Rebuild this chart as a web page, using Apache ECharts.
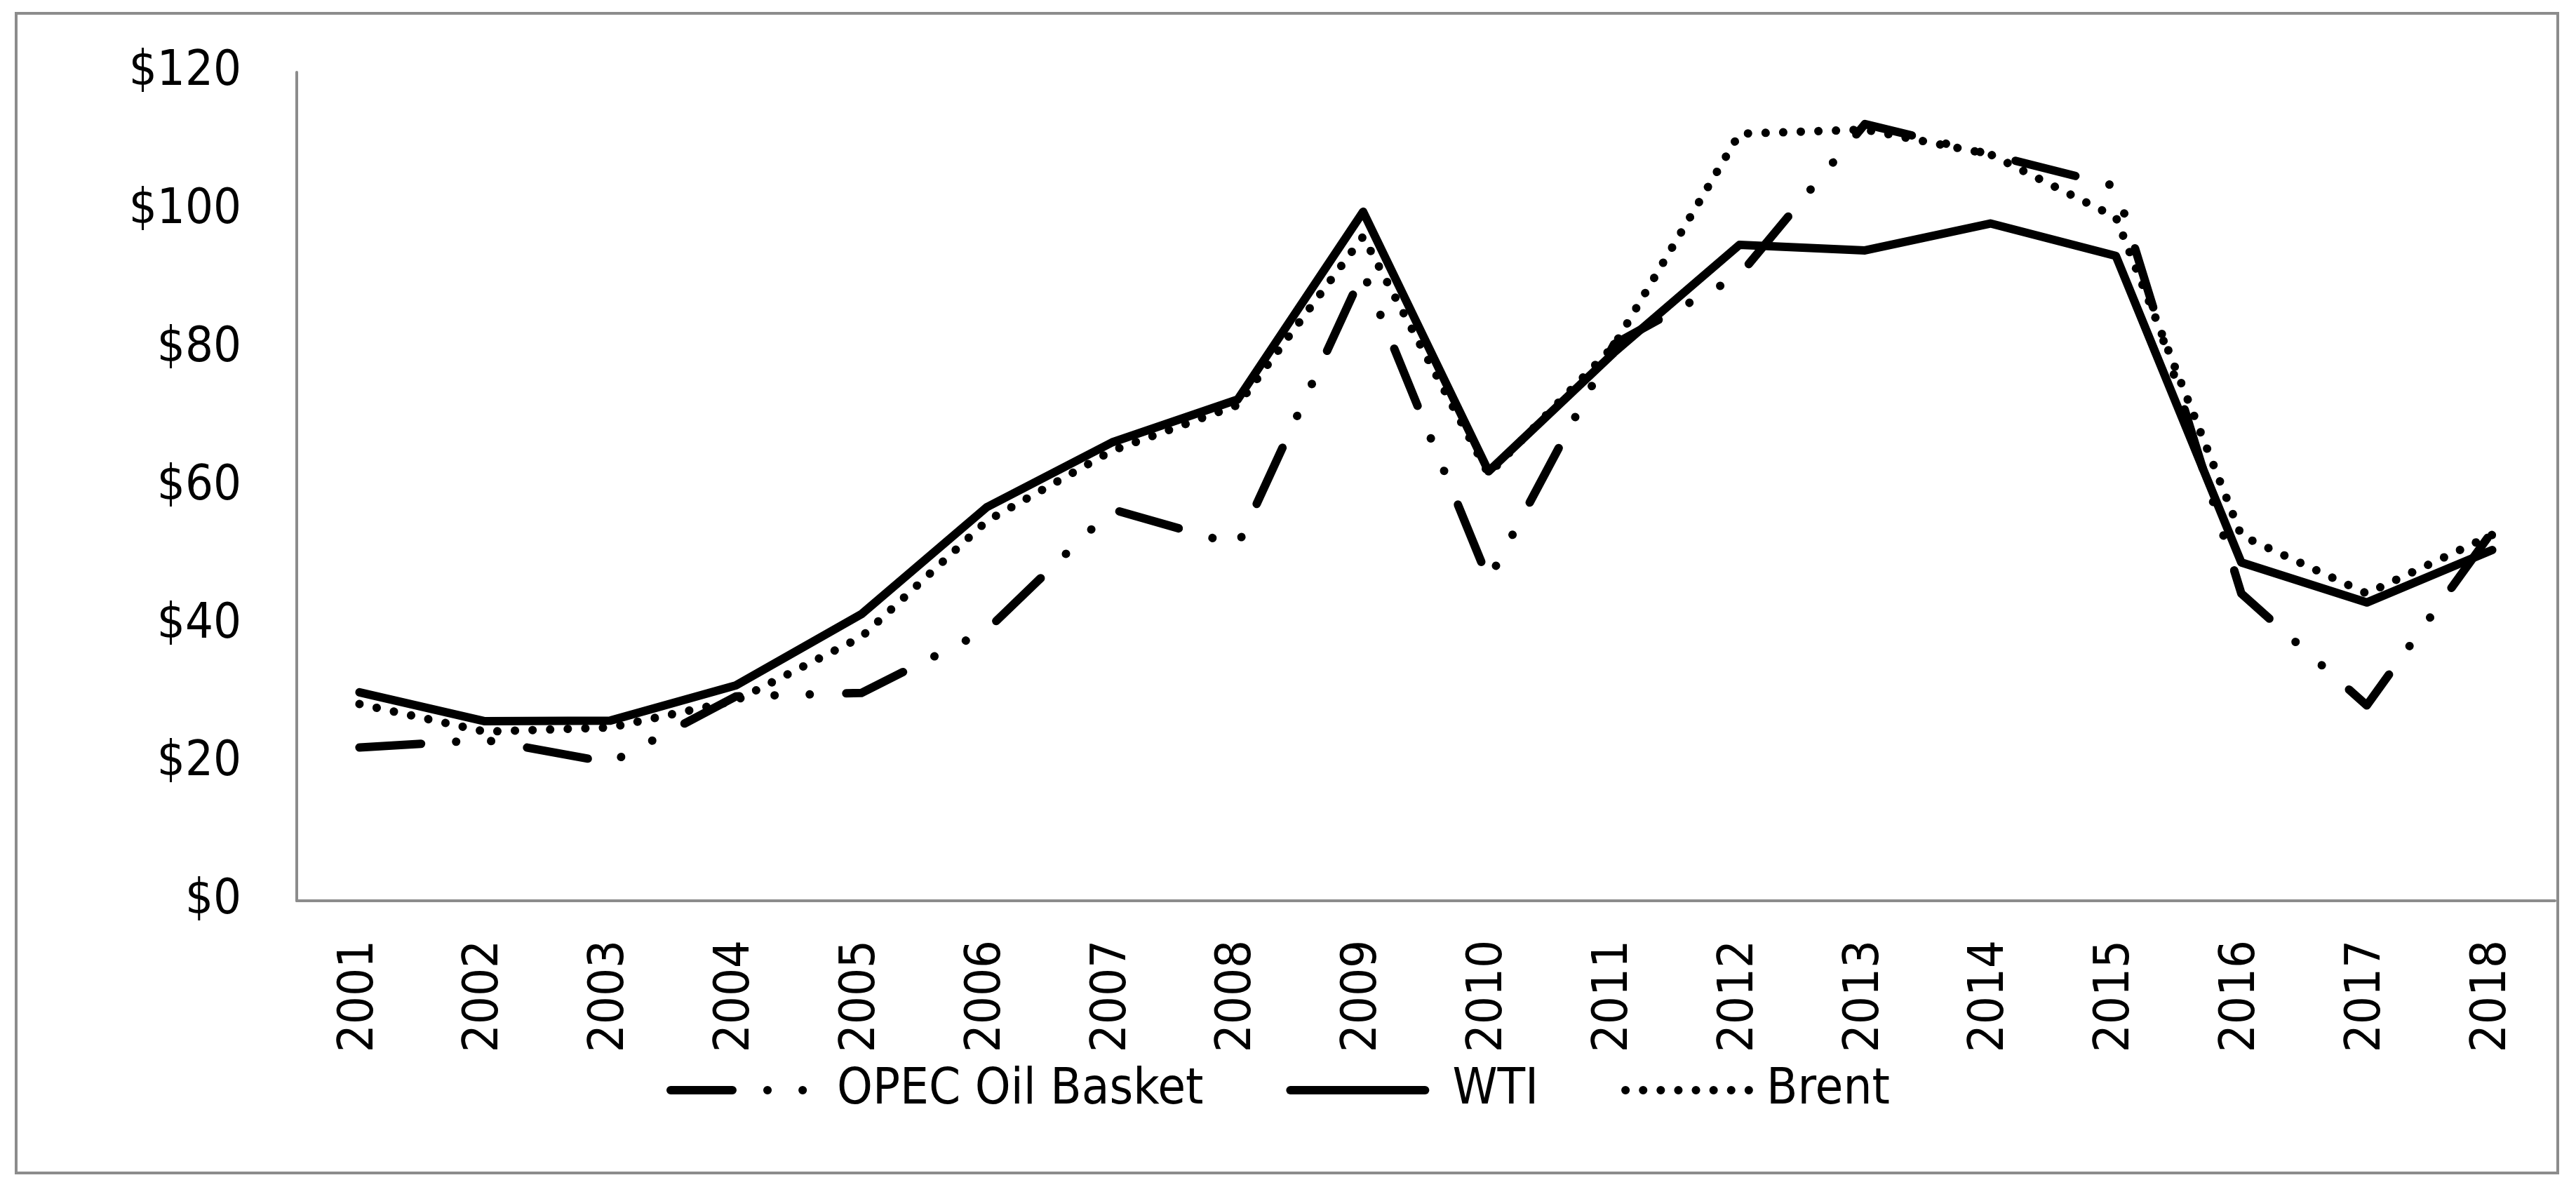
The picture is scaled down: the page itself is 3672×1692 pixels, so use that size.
<!DOCTYPE html>
<html>
<head>
<meta charset="utf-8">
<script src="https://cdn.jsdelivr.net/npm/echarts@6/dist/echarts.min.js"></script>
<style>
html,body{margin:0;padding:0;background:#fff;}
#chart{width:3672px;height:1692px;}
</style>
</head>
<body>
<div id="chart"></div>
<script>
const years = ['2001','2002','2003','2004','2005','2006','2007','2008','2009','2010','2011','2012','2013','2014','2015','2016','2017','2018'];
const opecBasket = [22.2, 23.3, 20.0, 29.6, 30.1, 39.2, 56.7, 51.5, 91.0, 46.5, 80.6, 90.6, 112.5, 108.1, 103.5, 44.5, 28.3, 53.5];
const wti = [30.2, 26.0, 26.1, 31.2, 41.5, 57.0, 66.4, 72.6, 99.8, 62.2, 79.4, 95.0, 94.2, 98.1, 93.4, 49.0, 43.2, 50.8];
const brent = [28.5, 24.5, 25.1, 29.0, 38.2, 55.0, 65.2, 71.8, 96.2, 61.8, 80.4, 111.1, 111.7, 108.1, 99.0, 52.9, 44.5, 53.0];
const yTicks = [0, 20, 40, 60, 80, 100, 120];

const FONT = "'DejaVu Sans Condensed', 'DejaVu Sans', sans-serif";
const AXIS_GREY = '#8c8c8c';
const LW = 12;
const opecDash = [88, 50, 0.1, 50, 0.1, 52];
const brentDash = [0.1, 25];

const chart = echarts.init(document.getElementById('chart'), null, {renderer: 'canvas'});

function lineSeries(name, data, dash) {
  return {
    name: name,
    type: 'line',
    data: data,
    symbol: 'none',
    smooth: false,
    animation: false,
    lineStyle: {color: '#000', width: LW, type: dash, cap: 'round', join: 'round'},
    itemStyle: {color: '#000'}
  };
}

const option = {
  animation: false,
  backgroundColor: '#fff',
  graphic: [{
    type: 'rect',
    shape: {x: 23, y: 19, width: 3623, height: 1653},
    style: {fill: 'none', stroke: AXIS_GREY, lineWidth: 4},
    silent: true
  }],
  grid: {left: 423, right: 30, top: 103, bottom: 408, containLabel: false},
  legend: {
    left: 950,
    top: 1518,
    padding: 0,
    itemWidth: 192,
    itemHeight: 14,
    itemGap: 118,
    textStyle: {fontFamily: FONT, fontSize: 72, color: '#000'},
    data: [
      {name: 'OPEC Oil Basket', lineStyle: {width: LW, type: opecDash, cap: 'round', color: '#000'}, itemStyle: {opacity: 0},
        textStyle: {padding: [0, 31, 0, 40]}},
      {name: 'WTI', lineStyle: {width: LW, type: 'solid', cap: 'round', color: '#000'}, itemStyle: {opacity: 0},
        textStyle: {padding: [0, 0, 0, 34]}},
      {name: 'Brent', lineStyle: {width: LW, type: brentDash, cap: 'round', color: '#000'}, itemStyle: {opacity: 0},
        textStyle: {padding: [0, 0, 0, 4]}}
    ]
  },
  xAxis: {
    type: 'category',
    data: years,
    boundaryGap: true,
    axisLine: {show: true, lineStyle: {color: AXIS_GREY, width: 4}},
    axisTick: {show: false},
    splitLine: {show: false},
    axisLabel: {rotate: 90, margin: 56, fontFamily: FONT, fontSize: 70, color: '#000'}
  },
  yAxis: {
    type: 'value',
    min: 0,
    max: 120,
    interval: 20,
    axisLine: {show: true, lineStyle: {color: AXIS_GREY, width: 4}},
    axisTick: {show: false},
    splitLine: {show: false},
    axisLabel: {margin: 79, fontFamily: FONT, fontSize: 70, color: '#000', formatter: function (v) { return yTicks.indexOf(v) >= 0 ? '$' + v : ''; }}
  },
  series: [
    lineSeries('OPEC Oil Basket', opecBasket, opecDash),
    lineSeries('WTI', wti, 'solid'),
    lineSeries('Brent', brent, brentDash)
  ]
};
chart.setOption(option);
</script>
</body>
</html>
